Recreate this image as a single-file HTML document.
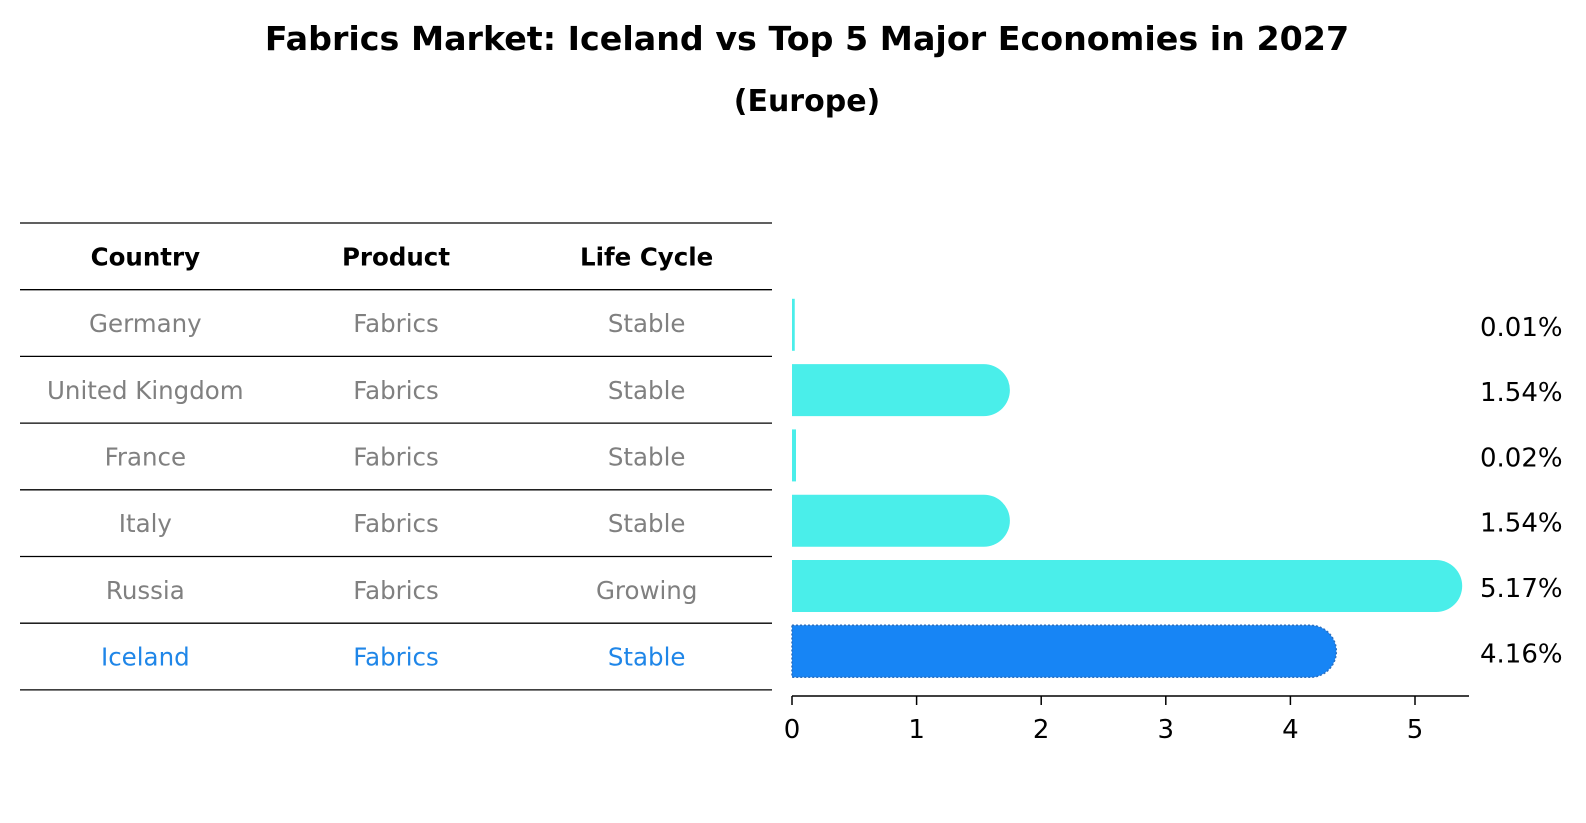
<!DOCTYPE html>
<html><head><meta charset="utf-8"><style>
html,body{margin:0;padding:0;background:#fff}
svg{display:block;font-family:"DejaVu Sans","Liberation Sans",sans-serif}
</style></head><body>
<svg id="chart" width="1586" height="823" viewBox="0 0 1586 823" xmlns="http://www.w3.org/2000/svg">
<text x="807" y="50" text-anchor="middle" font-size="33.3" font-weight="bold">Fabrics Market: Iceland vs Top 5 Major Economies in 2027</text>
<text x="807" y="111" text-anchor="middle" font-size="30" font-weight="bold">(Europe)</text>
<g id="table"></g>
<g id="bars"></g>
</svg>
<script>
const countries = ["Germany","United Kingdom","France","Italy","Russia","Iceland"];
const products = ["Fabrics","Fabrics","Fabrics","Fabrics","Fabrics","Fabrics"];
const lifeCycles = ["Stable","Stable","Stable","Stable","Growing","Stable"];
const values = [0.01,1.54,0.02,1.54,5.17,4.16];
const valueLabels = ["0.01%","1.54%","0.02%","1.54%","5.17%","4.16%"];
const ticks = [0,1,2,3,4,5];
const headers = ["Country","Product","Life Cycle"];

const NS="http://www.w3.org/2000/svg";
function mk(tag,attrs,parent){const e=document.createElementNS(NS,tag);for(const k in attrs)e.setAttribute(k,attrs[k]);parent.appendChild(e);return e;}

// table
const tg=document.getElementById('table');
const tx0=20,tx1=772,rowTop=223,rowH=66.7;
const colX=i=>tx0+(tx1-tx0)/3*(i+0.5);
for(let r=0;r<=countries.length+1;r++){
  const l=mk('line',{x1:tx0,x2:tx1,y1:rowTop+r*rowH,y2:rowTop+r*rowH,stroke:'#000','stroke-width':1.3},tg);
  
  
}
headers.forEach((h,i)=>{
  const t=mk('text',{x:colX(i),y:rowTop+rowH*0.5+9,'text-anchor':'middle','font-size':24.5,'font-weight':'bold',fill:'#000'},tg);
  t.textContent=h;
  
  
});
countries.forEach((c,r)=>{
  const col=c==="Iceland"?'#1f86e8':'#808080';
  [c,products[r],lifeCycles[r]].forEach((v,i)=>{
    const t=mk('text',{x:colX(i),y:rowTop+rowH*(r+1.5)+9,'text-anchor':'middle','font-size':24.5,fill:col},tg);
    t.textContent=v;
    
    
  });
});

// bars
const bg=document.getElementById('bars');
const x0=792,unit=124.6;
const xs=v=>x0+v*unit;
const yc=i=>324.8+i*65.3;
const bh=52,rad=26;
values.forEach((v,i)=>{
  const isI=countries[i]==="Iceland";
  const fill=isI?'#1785f5':'#4aeeea';
  const top=yc(i)-bh/2;
  let el;
  if(v<0.1){
    el=mk('rect',{x:x0,y:top,width:Math.max(2,xs(v)-x0+1.5),height:bh,fill:fill},bg);
  }else{
    const xe=xs(v)+rad;
    const d=`M${x0},${top} L${xe-rad},${top} A${rad},${rad} 0 0 1 ${xe-rad},${top+bh} L${x0},${top+bh} Z`;
    el=mk('path',{d:d,fill:fill},bg);
    if(isI){el.setAttribute('stroke','#2a6fc0');el.setAttribute('stroke-width','1.5');el.setAttribute('stroke-dasharray','2,2');}
  }
  
  
  const t=mk('text',{x:1480,y:yc(i)+11,'font-size':26,fill:'#000'},bg);
  t.textContent=valueLabels[i];
  
  
});
const ax=mk('line',{x1:x0,x2:1469,y1:696,y2:696,stroke:'#000','stroke-width':1.5},bg);


ticks.forEach(tv=>{
  const l=mk('line',{x1:xs(tv),x2:xs(tv),y1:696,y2:705,stroke:'#000','stroke-width':1.5},bg);
  
  
  const t=mk('text',{x:xs(tv),y:738,'text-anchor':'middle','font-size':26,fill:'#000'},bg);
  t.textContent=String(tv);
  
  
});
</script>
</body></html>
